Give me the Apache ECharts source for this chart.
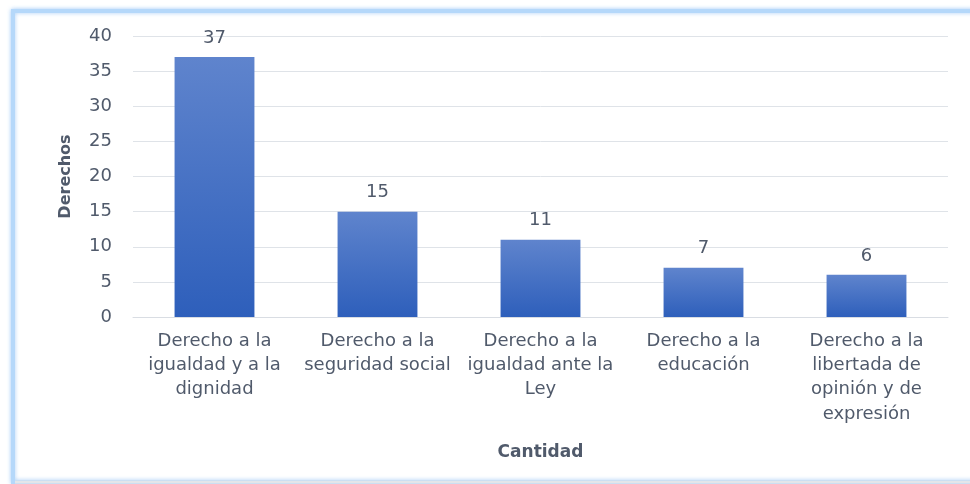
<!DOCTYPE html>
<html><head><meta charset="utf-8">
<script src="https://cdn.jsdelivr.net/npm/echarts@6/dist/echarts.min.js"></script>
<style>html,body{margin:0;padding:0;background:#fff;}#c{width:970px;height:484px;}</style>
</head><body><div id="c"></div>
<script>
const categories = ["Derecho a la\nigualdad y a la\ndignidad","Derecho a la\nseguridad social","Derecho a la\nigualdad ante la\nLey","Derecho a la\neducación","Derecho a la\nlibertada de\nopinión y de\nexpresión"];
const values = [37, 15, 11, 7, 6];
const yTicks = {min:0, max:40, interval:5};
const txt = '#505a6b';
const ff = 'DejaVu Sans';
const chart = echarts.init(document.getElementById('c'), null, {renderer:'canvas'});
chart.setOption({
  animation:false,
  backgroundColor:'#fff',
  graphic:[
    {type:'rect', shape:{x:13,y:11,width:990,height:471}, style:{fill:'#fff', stroke:'#b5d8fa', lineWidth:4, shadowBlur:4, shadowColor:'rgba(140,190,245,0.7)'}, z:-10},
    {type:'line', shape:{x1:15,y1:482,x2:970,y2:482}, style:{stroke:'#e3e6ea', lineWidth:3}, z:-9}
  ],
  grid:{left:133, right:22, top:36, bottom:167, containLabel:false},
  xAxis:{type:'category', data:categories,
    name:'Cantidad', nameLocation:'middle', nameGap:127,
    nameTextStyle:{color:txt, fontFamily:ff, fontSize:17, fontWeight:'bold'},
    axisLine:{lineStyle:{color:'#d9dde3', width:1}}, axisTick:{show:false},
    axisLabel:{color:txt, fontFamily:ff, fontSize:18, lineHeight:24.3, margin:12, interval:0}},
  yAxis:{type:'value', min:yTicks.min, max:yTicks.max, interval:yTicks.interval,
    name:'Derechos', nameLocation:'middle', nameGap:59,
    nameTextStyle:{color:txt, fontFamily:ff, fontSize:16, fontWeight:'bold'},
    axisLine:{show:false}, axisTick:{show:false},
    splitLine:{lineStyle:{color:'#dfe3e8', width:1}},
    axisLabel:{color:txt, fontFamily:ff, fontSize:18, margin:21}},
  series:[{type:'bar', data:values, barWidth:'49%',
    itemStyle:{color:new echarts.graphic.LinearGradient(0,0,0,1,[{offset:0,color:'#5f84cd'},{offset:1,color:'#2e5fbb'}])},
    label:{show:true, position:'top', distance:10, color:txt, fontFamily:ff, fontSize:18}}]
});
</script></body></html>
